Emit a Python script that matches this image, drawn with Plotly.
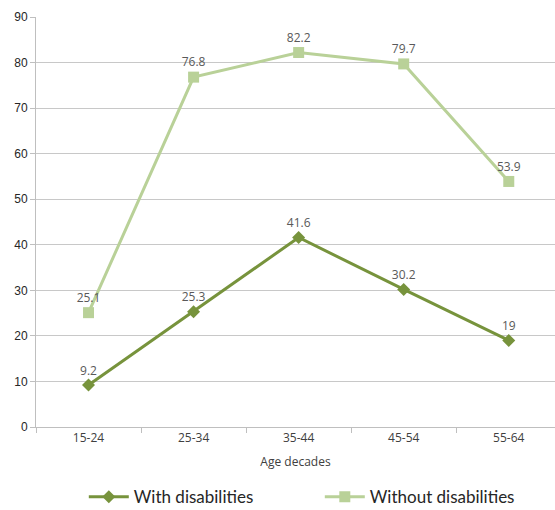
import plotly.graph_objects as go

# Age groups and rates for each group
age_groups = ["15-24", "25-34", "35-44", "45-54", "55-64"]
with_disabilities = [9.2, 25.3, 41.6, 30.2, 19]
without_disabilities = [25.1, 76.8, 82.2, 79.7, 53.9]
y_ticks = [0, 10, 20, 30, 40, 50, 60, 70, 80, 90]

dark_green = "#77933C"
light_green = "#B9D198"
label_color = "#595959"

fig = go.Figure()

fig.add_trace(go.Scatter(
    x=age_groups, y=with_disabilities, name="With disabilities",
    mode="lines+markers+text",
    line=dict(color=dark_green, width=3),
    marker=dict(symbol="diamond", size=10, color=dark_green),
    text=[f"{v:g}" for v in with_disabilities], textposition="top center",
    textfont=dict(family="Open Sans", size=12, color=label_color),
    cliponaxis=False,
))

fig.add_trace(go.Scatter(
    x=age_groups, y=without_disabilities, name="Without disabilities",
    mode="lines+markers+text",
    line=dict(color=light_green, width=3),
    marker=dict(symbol="square", size=11, color=light_green),
    text=[f"{v:g}" for v in without_disabilities], textposition="top center",
    textfont=dict(family="Open Sans", size=12, color=label_color),
    cliponaxis=False,
))

fig.update_layout(
    width=555, height=510,
    margin=dict(l=36, r=0, t=17, b=83, autoexpand=False),
    paper_bgcolor="white", plot_bgcolor="white",
    font=dict(family="Open Sans", color="#404040"),
    showlegend=True,
    legend=dict(
        orientation="h", xref="container", x=0.151, xanchor="left",
        yref="container", y=0.025, yanchor="middle",
        font=dict(family="Lato", size=17, color="#262626"),
        entrywidth=181, traceorder="normal",
        itemwidth=40,
    ),
    xaxis=dict(
        type="category", range=[-0.5, 4.44],
        showgrid=False, showline=True, linecolor="#BFBFBF", linewidth=1,
        ticks="outside", tickson="boundaries", ticklen=5, tickcolor="#BFBFBF",
        tickfont=dict(family="Open Sans", size=12, color="#404040"),
        title=dict(text="Age decades", standoff=12,
                   font=dict(family="Open Sans", size=12, color="#404040")),
        zeroline=False, automargin=False,
    ),
    yaxis=dict(
        range=[0, 90], tickvals=y_ticks,
        showgrid=True, gridcolor="#C8C8C8", gridwidth=1,
        showline=True, linecolor="#BFBFBF", linewidth=1,
        ticks="outside", ticklen=5, tickcolor="#BFBFBF",
        tickfont=dict(family="Liberation Sans", size=12, color="#262626"),
        zeroline=False, automargin=False,
    ),
)

fig.write_html("out.html")
